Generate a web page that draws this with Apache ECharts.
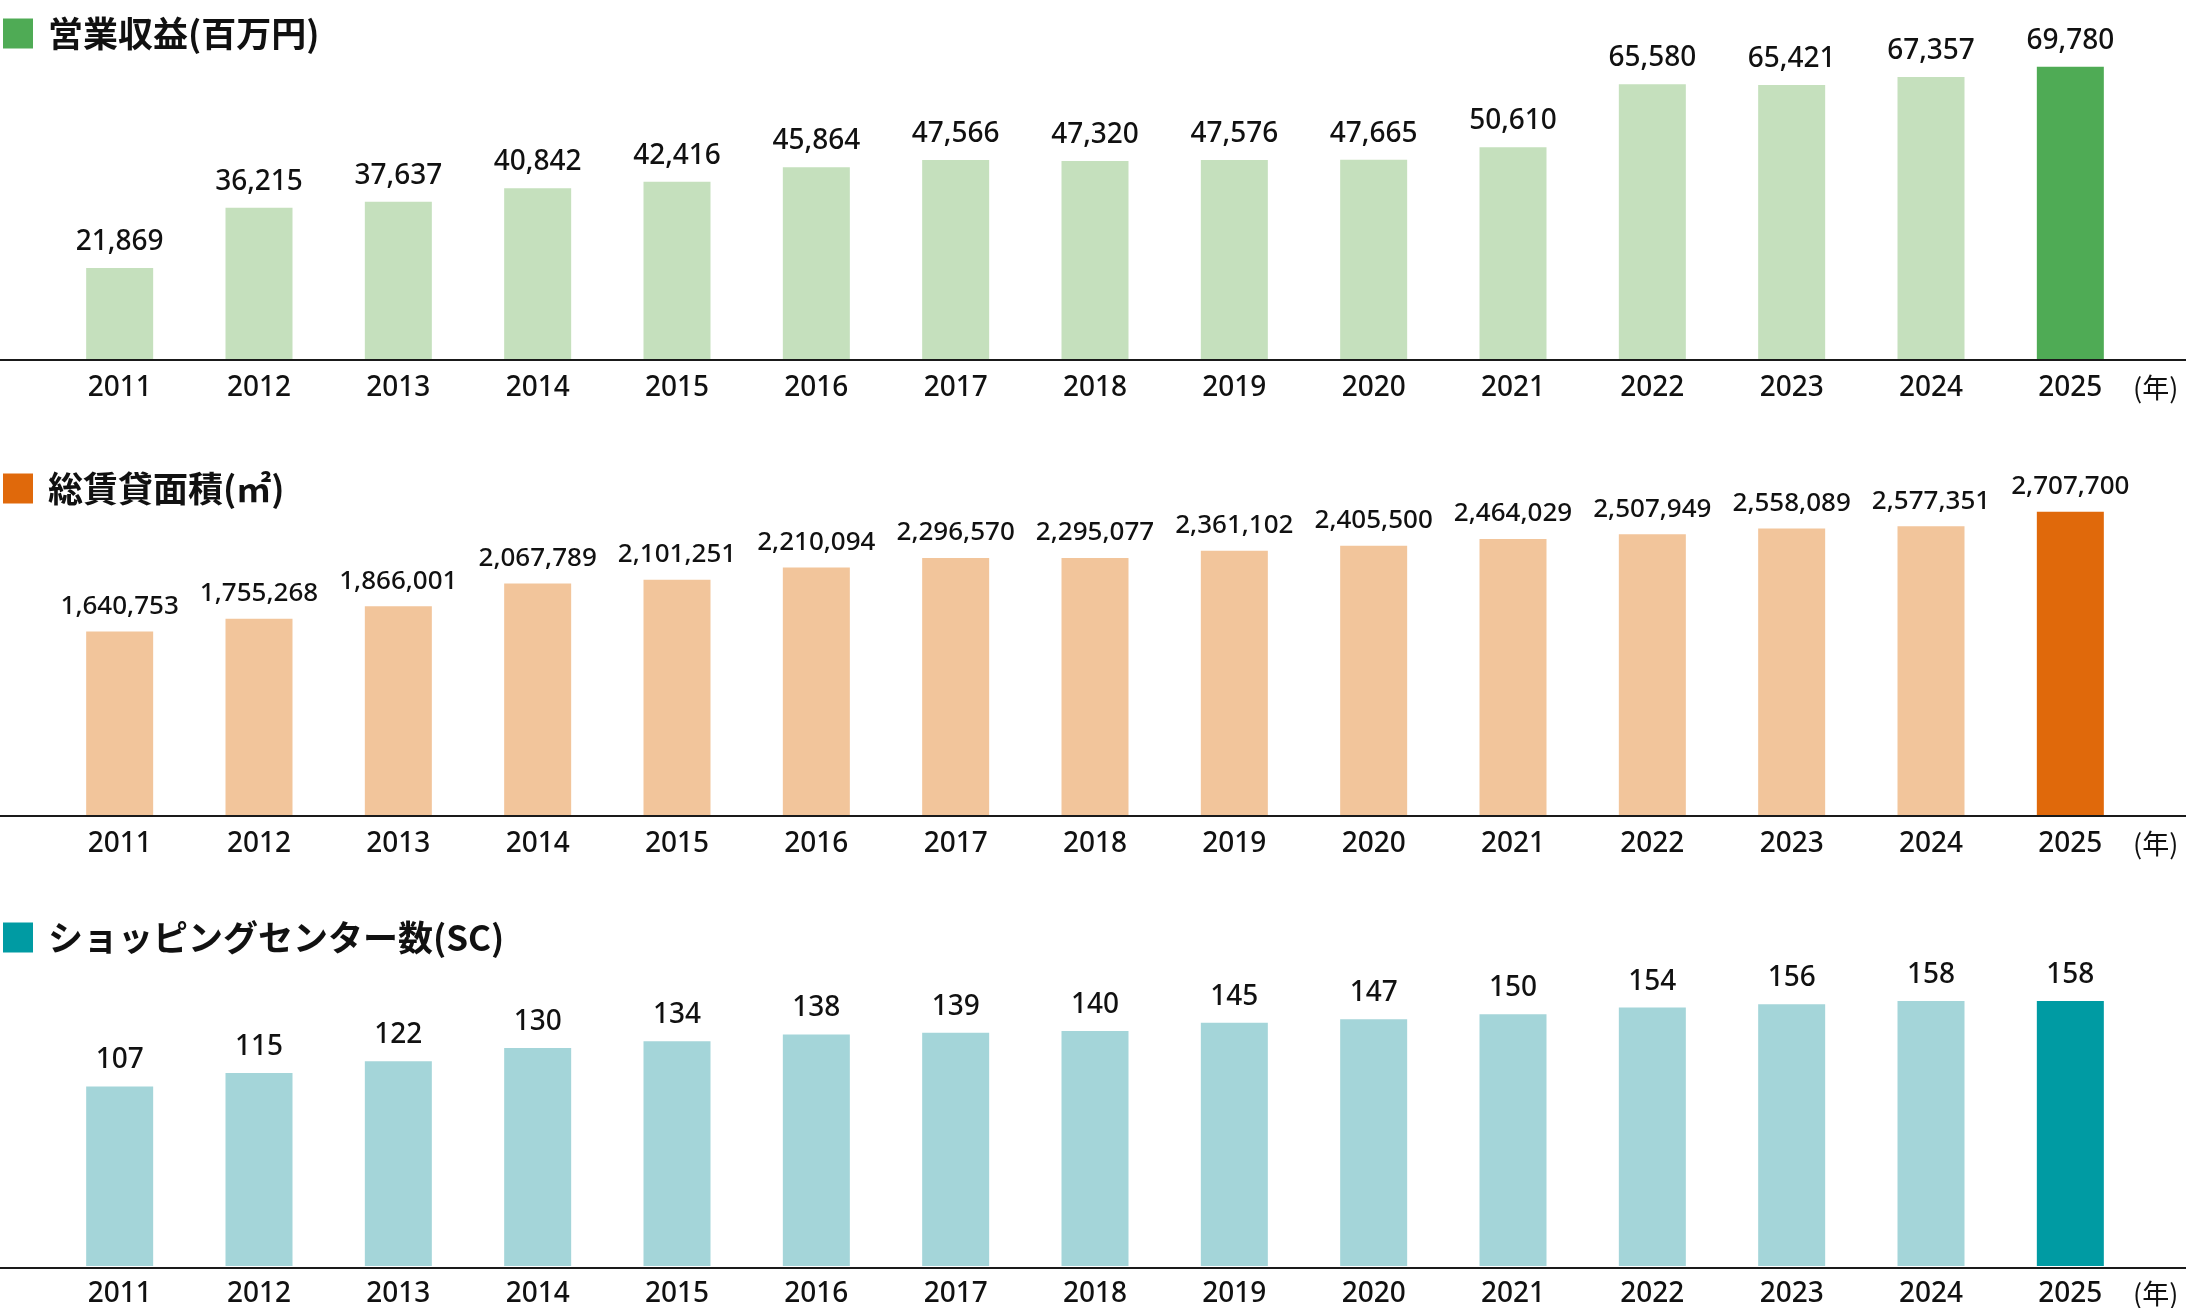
<!DOCTYPE html>
<html>
<head>
<meta charset="utf-8">
<script src="https://cdn.jsdelivr.net/npm/echarts@6/dist/echarts.min.js"></script>
<style>
    html, body { margin: 0; padding: 0; background: #fff; }
    #main { width: 2186px; height: 1308px; }
</style>
</head>
<body>
<div id="main"></div>
<script>
var years = ["2011", "2012", "2013", "2014", "2015", "2016", "2017", "2018", "2019", "2020", "2021", "2022", "2023", "2024", "2025"];
var revenue = [21869, 36215, 37637, 40842, 42416, 45864, 47566, 47320, 47576, 47665, 50610, 65580, 65421, 67357, 69780];
var floorArea = [1640753, 1755268, 1866001, 2067789, 2101251, 2210094, 2296570, 2295077, 2361102, 2405500, 2464029, 2507949, 2558089, 2577351, 2707700];
var scCount = [107, 115, 122, 130, 134, 138, 139, 140, 145, 147, 150, 154, 156, 158, 158];
var titles = ["営業収益(百万円)", "総賃貸面積(㎡)", "ショッピングセンター数(SC)"];
var yearUnit = "(年)";

var numFont = "'Noto Sans', 'Noto Sans CJK JP', sans-serif";
var jpFont = "'Noto Sans CJK JP', sans-serif";

// panel layout: top of grid, height of grid, y max, label size
var panels = [
    { top: 60, height: 300, max: 71373, dark: "#4fab55", light: "#c5e0bd", data: revenue, size: 28, legendTop: 16 },
    { top: 500, height: 316, max: 2811810, dark: "#e0690b", light: "#f2c59b", data: floorArea, size: 26, legendTop: 471 },
    { top: 990, height: 278, max: 164.5, dark: "#009ba3", light: "#a4d5d9", data: scCount, size: 28, legendTop: 920 }
];

function fmt(v) {
    return String(v).replace(/\B(?=(\d{3})+(?!\d))/g, ",");
}

var grids = [], xAxes = [], yAxes = [], series = [], legends = [], lines = [];

panels.forEach(function (p, i) {
    grids.push({ left: 50, right: 46, top: p.top, height: p.height });
    xAxes.push({
        type: "category",
        gridIndex: i,
        data: years,
        axisLine: { show: false },
        axisTick: { show: false },
        axisLabel: { margin: 14, fontSize: 28, fontWeight: 500, color: "#111", fontFamily: numFont },
        name: yearUnit,
        nameLocation: "end",
        nameGap: -7,
        nameTextStyle: {
            fontSize: 27, color: "#111", fontFamily: jpFont,
            align: "left", verticalAlign: "top", padding: [14, 0, 0, 0]
        }
    });
    yAxes.push({
        type: "value",
        gridIndex: i,
        min: 0,
        max: p.max,
        show: false,
        splitLine: { show: false }
    });
    var items = p.data.map(function (v, k) {
        if (k === p.data.length - 1) return v;
        return { value: v, itemStyle: { color: p.light } };
    });
    series.push({
        name: titles[i],
        type: "bar",
        xAxisIndex: i,
        yAxisIndex: i,
        barWidth: 67,
        itemStyle: { color: p.dark },
        label: {
            show: true,
            position: "top",
            distance: 12,
            fontSize: p.size,
            fontWeight: 500,
            color: "#111",
            fontFamily: numFont,
            formatter: function (params) {
                return fmt(params.value);
            }
        },
        data: items
    });
    legends.push({
        data: [titles[i]],
        left: 3,
        top: p.legendTop,
        padding: 0,
        icon: "rect",
        itemWidth: 30,
        itemHeight: 30,
        selectedMode: false,
        textStyle: {
            fontSize: 35, color: "#111", fontFamily: jpFont, fontWeight: "bold",
            padding: [0, 0, 0, 10]
        }
    });
    lines.push({
        type: "line",
        shape: { x1: 0, y1: p.top + p.height, x2: 2186, y2: p.top + p.height },
        style: { stroke: "#1a1a1a", lineWidth: 2 },
        z: 10
    });
});

var myChart = echarts.init(document.getElementById("main"));
myChart.setOption({
    animation: false,
    backgroundColor: "#fff",
    grid: grids,
    xAxis: xAxes,
    yAxis: yAxes,
    legend: legends,
    series: series,
    graphic: lines
});
</script>
</body>
</html>
